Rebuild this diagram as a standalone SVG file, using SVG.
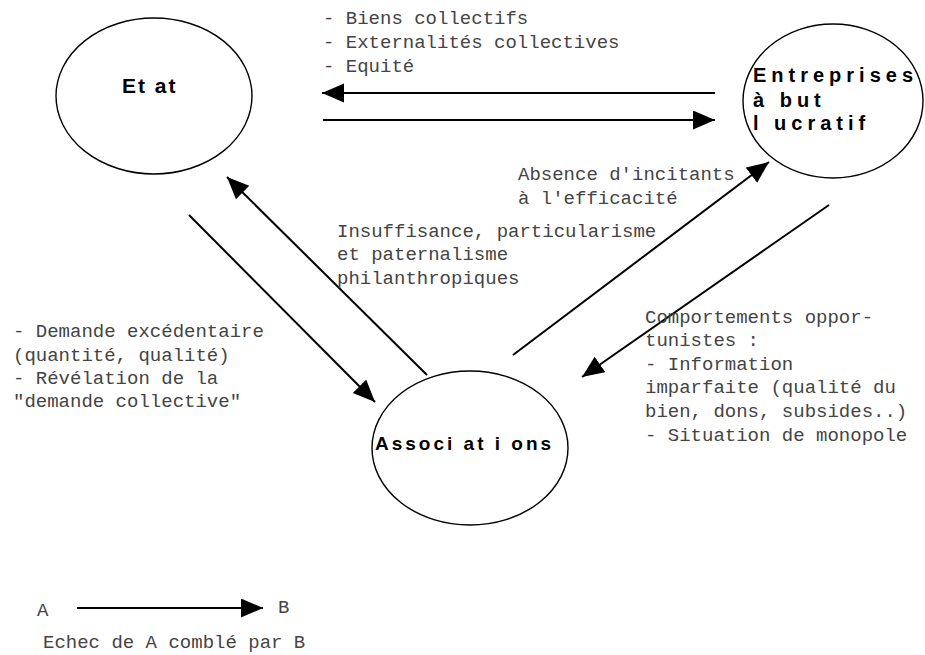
<svg xmlns="http://www.w3.org/2000/svg" width="925" height="655" viewBox="0 0 925 655">
<style>
.node ellipse{fill:#fff;stroke:#000;stroke-width:1.4}
.lbl{font-family:"Liberation Sans",Arial,sans-serif;font-weight:bold;fill:#000}
.txt{font-family:"Liberation Mono","Courier New",monospace;font-size:19px;fill:#444}
.conn line{stroke:#000;stroke-width:2;marker-end:url(#ah)}
</style>
<defs>
<marker id="ah" markerUnits="userSpaceOnUse" markerWidth="24" markerHeight="20" refX="22" refY="9.5" orient="auto" viewBox="0 0 24 20">
<path d="M0,0 L22,9.5 L0,19 z" fill="#000"/>
</marker>
</defs>
<rect width="925" height="655" fill="#fff"/>
<g id="etat" class="node">
<ellipse cx="154" cy="96" rx="98" ry="78"/>
<text class="lbl" x="122" y="93" font-size="21" letter-spacing="2">Et at</text>
</g>
<g id="entreprises" class="node">
<ellipse cx="833" cy="101" rx="90" ry="77"/>
<text class="lbl" x="753" y="82" font-size="20" letter-spacing="5">Entreprises</text>
<text class="lbl" x="753" y="107" font-size="20" letter-spacing="5">à but</text>
<text class="lbl" x="753" y="130" font-size="20" letter-spacing="5">l ucratif</text>
</g>
<g id="associations" class="node">
<ellipse cx="470" cy="448" rx="98" ry="77"/>
<text class="lbl" x="375" y="450" font-size="19" letter-spacing="3">Associ at i ons</text>
</g>
<g id="connectors" class="conn">
<line x1="715" y1="93" x2="322" y2="93"/>
<line x1="323" y1="120" x2="715" y2="120"/>
<line x1="427" y1="375" x2="227" y2="177"/>
<line x1="189" y1="215" x2="375" y2="402"/>
<line x1="513" y1="355" x2="769" y2="162"/>
<line x1="829" y1="205" x2="582" y2="377"/>
<line x1="77" y1="608" x2="263" y2="608"/>
</g>
<g id="labels" class="txt">
<text x="323" y="24">- Biens collectifs</text>
<text x="323" y="48">- Externalités collectives</text>
<text x="323" y="72">- Equité</text>
<text x="518" y="180">Absence d'incitants</text>
<text x="518" y="204">à l'efficacité</text>
<text x="337" y="237">Insuffisance, particularisme</text>
<text x="337" y="260">et paternalisme</text>
<text x="337" y="284">philanthropiques</text>
<text x="13" y="337">- Demande excédentaire</text>
<text x="13" y="361">(quantité, qualité)</text>
<text x="13" y="384">- Révélation de la</text>
<text x="13" y="407">"demande collective"</text>
<text x="645" y="323">Comportements oppor-</text>
<text x="645" y="346">tunistes :</text>
<text x="645" y="370">- Information</text>
<text x="645" y="393">imparfaite (qualité du</text>
<text x="645" y="417">bien, dons, subsides..)</text>
<text x="645" y="441">- Situation de monopole</text>
</g>
<g id="legend" class="txt">
<text x="37" y="616">A</text>
<text x="278" y="613">B</text>
<text x="43" y="648">Echec de A comblé par B</text>
</g>
</svg>
